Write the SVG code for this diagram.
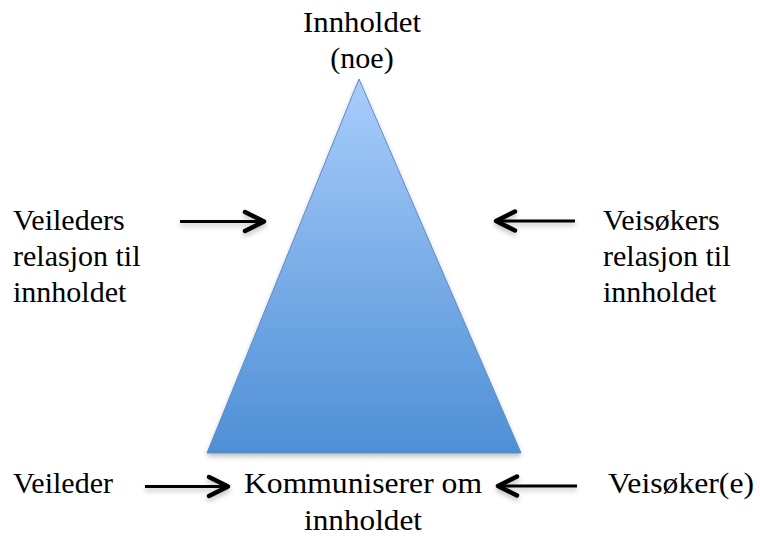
<svg xmlns="http://www.w3.org/2000/svg" width="760" height="536" viewBox="0 0 760 536">
  <defs>
    <linearGradient id="tri" x1="0" y1="0" x2="0" y2="1">
      <stop offset="0" stop-color="#a9cdfb"/>
      <stop offset="1" stop-color="#4e8fd5"/>
    </linearGradient>
    <filter id="shadow" x="-20%" y="-20%" width="140%" height="150%">
      <feDropShadow dx="0" dy="3" stdDeviation="2.5" flood-color="#000" flood-opacity="0.25"/>
    </filter>
  </defs>
  <style>
    .t { font-size: 30px; fill: #000; }
    .mid { text-anchor: middle; }
    .shaft { fill: none; stroke: #000; stroke-width: 3; }
    .head { fill: none; stroke: #000; stroke-width: 4.5; stroke-linecap: round; stroke-linejoin: round; }
  </style>
  <rect width="760" height="536" fill="#fff"/>

  <g id="triangle">
    <polygon points="359,79 207,453 521,453" fill="url(#tri)" stroke="#5b8ccb" stroke-width="1" filter="url(#shadow)"/>
  </g>

  <g id="connectors" filter="url(#shadow)">
    <line class="shaft" x1="180" y1="221.5" x2="262" y2="221.5"/>
    <path class="head" d="M245,212 L264,221.5 L245,231"/>
    <line class="shaft" x1="145" y1="486.5" x2="226" y2="486.5"/>
    <path class="head" d="M209,477 L228,486.5 L209,496"/>
    <line class="shaft" x1="498" y1="221" x2="575" y2="221"/>
    <path class="head" d="M515,211.5 L496,221 L515,230.5"/>
    <line class="shaft" x1="500" y1="486" x2="577" y2="486"/>
    <path class="head" d="M517,476.5 L498,486 L517,495.5"/>
  </g>

  <g font-family="'Liberation Serif', 'DejaVu Serif', serif">
    <g id="top-label">
      <text class="t mid" x="362" y="32" textLength="118" lengthAdjust="spacingAndGlyphs">Innholdet</text>
      <text class="t mid" x="362" y="68">(noe)</text>
    </g>
    <g id="left-label">
      <text class="t" x="13" y="230">Veileders</text>
      <text class="t" x="13" y="266">relasjon til</text>
      <text class="t" x="13" y="302">innholdet</text>
    </g>
    <g id="right-label">
      <text class="t" x="603" y="230">Veisøkers</text>
      <text class="t" x="603" y="266">relasjon til</text>
      <text class="t" x="603" y="302">innholdet</text>
    </g>
    <g id="veileder">
      <text class="t" x="13" y="493">Veileder</text>
    </g>
    <g id="center-label">
      <text class="t mid" x="363" y="493" textLength="238" lengthAdjust="spacingAndGlyphs">Kommuniserer om</text>
      <text class="t mid" x="363" y="530" textLength="118" lengthAdjust="spacingAndGlyphs">innholdet</text>
    </g>
    <g id="veisoker">
      <text class="t" x="608" y="493" textLength="146" lengthAdjust="spacingAndGlyphs">Veisøker(e)</text>
    </g>
  </g>
</svg>
